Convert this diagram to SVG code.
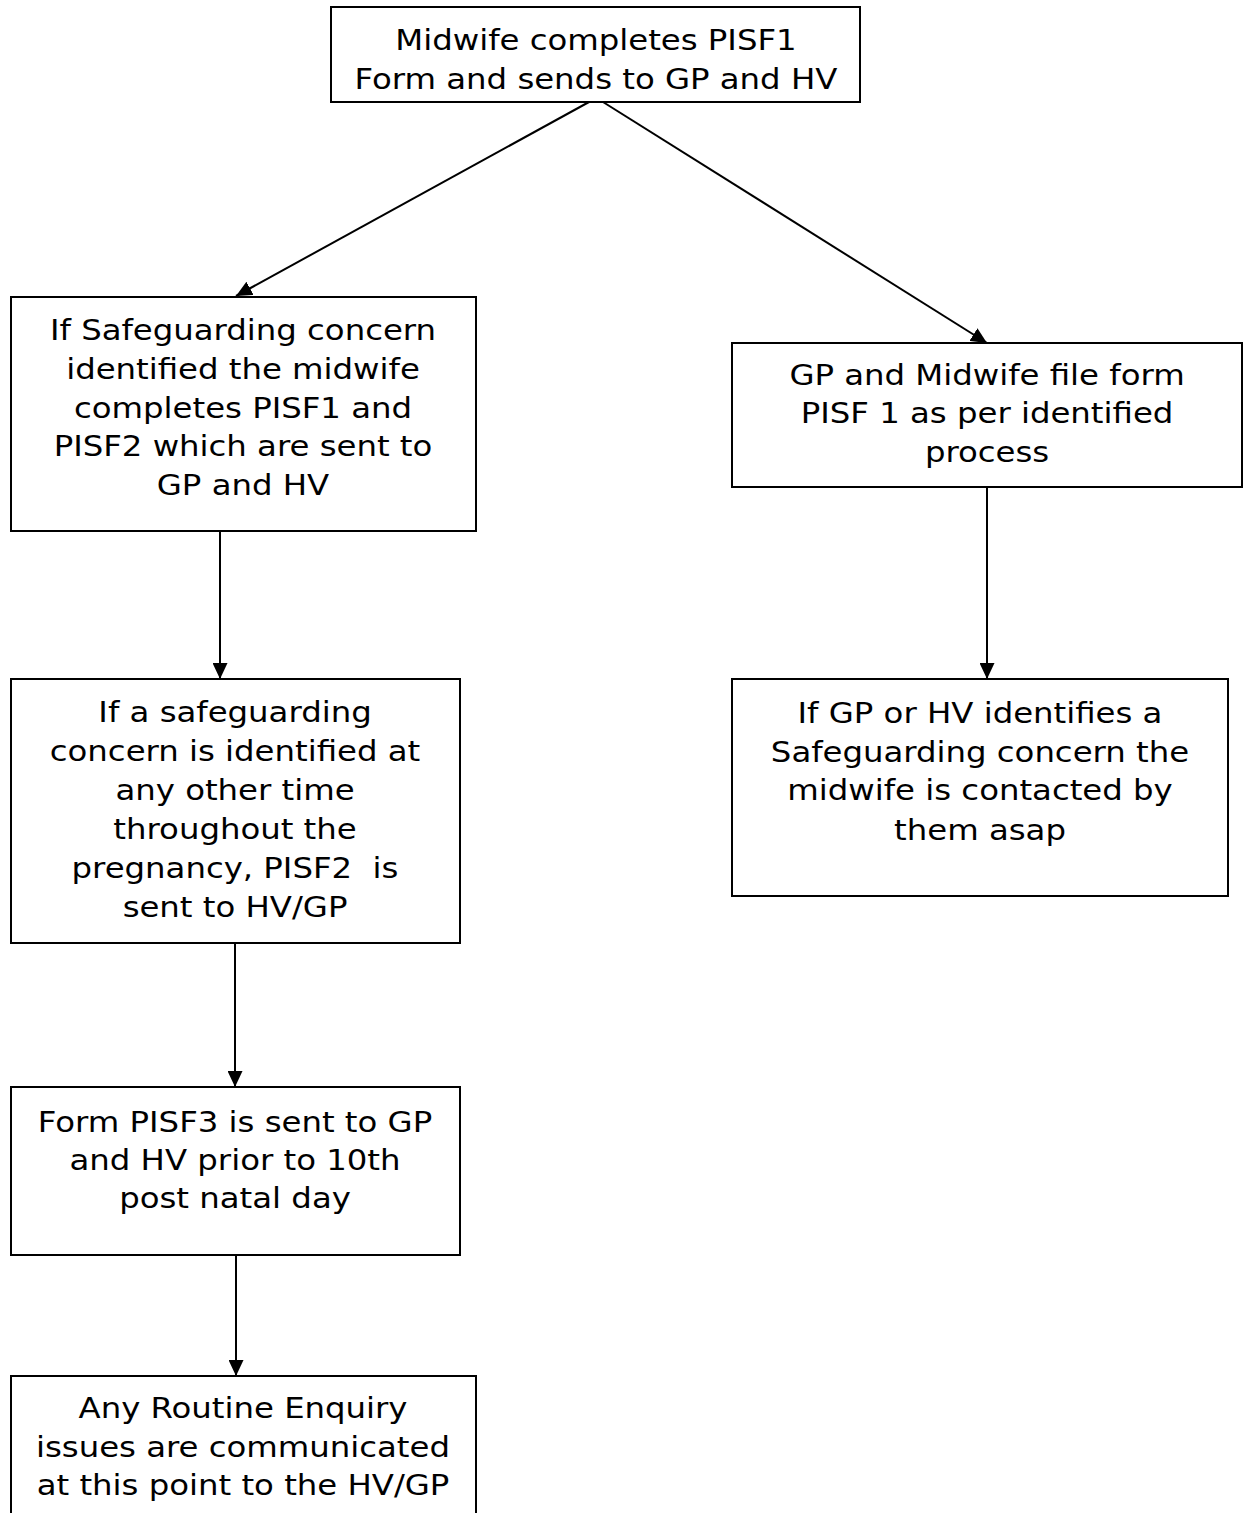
<svg xmlns="http://www.w3.org/2000/svg" width="1243" height="1513" viewBox="0 0 1243 1513">
<style>
.box{fill:#fff;stroke:#000;stroke-width:2}
.t{font-family:"DejaVu Sans",Verdana,sans-serif;font-size:28.5px;text-anchor:middle;fill:#000}
.c{stroke:#000;stroke-width:2;fill:none}
</style>
<defs>
<marker id="ah" markerUnits="userSpaceOnUse" markerWidth="16" markerHeight="15" refX="16" refY="7.5" orient="auto">
<path d="M0,0 L16,7.5 L0,15 Z" fill="#000"/>
</marker>
</defs>
<rect width="1243" height="1513" fill="#fff"/>
<g id="connectors">
<line class="c" x1="589" y1="102" x2="236" y2="296" marker-end="url(#ah)"/>
<line class="c" x1="603" y1="102" x2="987" y2="343" marker-end="url(#ah)"/>
<line class="c" x1="220" y1="531" x2="220" y2="679" marker-end="url(#ah)"/>
<line class="c" x1="987" y1="487" x2="987" y2="679" marker-end="url(#ah)"/>
<line class="c" x1="235" y1="943" x2="235" y2="1087" marker-end="url(#ah)"/>
<line class="c" x1="236" y1="1255" x2="236" y2="1376" marker-end="url(#ah)"/>
</g>
<g id="n1">
<rect class="box" x="331" y="7" width="529" height="95"/>
<g transform="matrix(1.135,0,0,1,-80.5,0)">
<text class="t" x="596" y="50">Midwife completes PISF1</text>
<text class="t" x="596" y="89">Form and sends to GP and HV</text>
</g>
</g>
<g id="n2">
<rect class="box" x="11" y="297" width="465" height="234"/>
<g transform="matrix(1.135,0,0,1,-32.8,0)">
<text class="t" x="243" y="340">If Safeguarding concern</text>
<text class="t" x="243" y="379">identified the midwife</text>
<text class="t" x="243" y="418">completes PISF1 and</text>
<text class="t" x="243" y="456">PISF2 which are sent to</text>
<text class="t" x="243" y="495">GP and HV</text>
</g>
</g>
<g id="n3">
<rect class="box" x="732" y="343" width="510" height="144"/>
<g transform="matrix(1.135,0,0,1,-133.2,0)">
<text class="t" x="987" y="385">GP and Midwife file form</text>
<text class="t" x="987" y="423">PISF 1 as per identified</text>
<text class="t" x="987" y="462">process</text>
</g>
</g>
<g id="n4">
<rect class="box" x="11" y="679" width="449" height="264"/>
<g transform="matrix(1.135,0,0,1,-31.7,0)">
<text class="t" x="235" y="722">If a safeguarding</text>
<text class="t" x="235" y="761">concern is identified at</text>
<text class="t" x="235" y="800">any other time</text>
<text class="t" x="235" y="839">throughout the</text>
<text class="t" x="235" y="878" xml:space="preserve">pregnancy, PISF2  is</text>
<text class="t" x="235" y="917">sent to HV/GP</text>
</g>
</g>
<g id="n5">
<rect class="box" x="732" y="679" width="496" height="217"/>
<g transform="matrix(1.135,0,0,1,-132.3,0)">
<text class="t" x="980" y="723">If GP or HV identifies a</text>
<text class="t" x="980" y="762">Safeguarding concern the</text>
<text class="t" x="980" y="800">midwife is contacted by</text>
<text class="t" x="980" y="840">them asap</text>
</g>
</g>
<g id="n6">
<rect class="box" x="11" y="1087" width="449" height="168"/>
<g transform="matrix(1.135,0,0,1,-31.7,0)">
<text class="t" x="235" y="1132">Form PISF3 is sent to GP</text>
<text class="t" x="235" y="1170">and HV prior to 10th</text>
<text class="t" x="235" y="1208">post natal day</text>
</g>
</g>
<g id="n7">
<rect class="box" x="11" y="1376" width="465" height="160"/>
<g transform="matrix(1.135,0,0,1,-32.8,0)">
<text class="t" x="243" y="1418">Any Routine Enquiry</text>
<text class="t" x="243" y="1457">issues are communicated</text>
<text class="t" x="243" y="1495">at this point to the HV/GP</text>
</g>
</g>
</svg>
